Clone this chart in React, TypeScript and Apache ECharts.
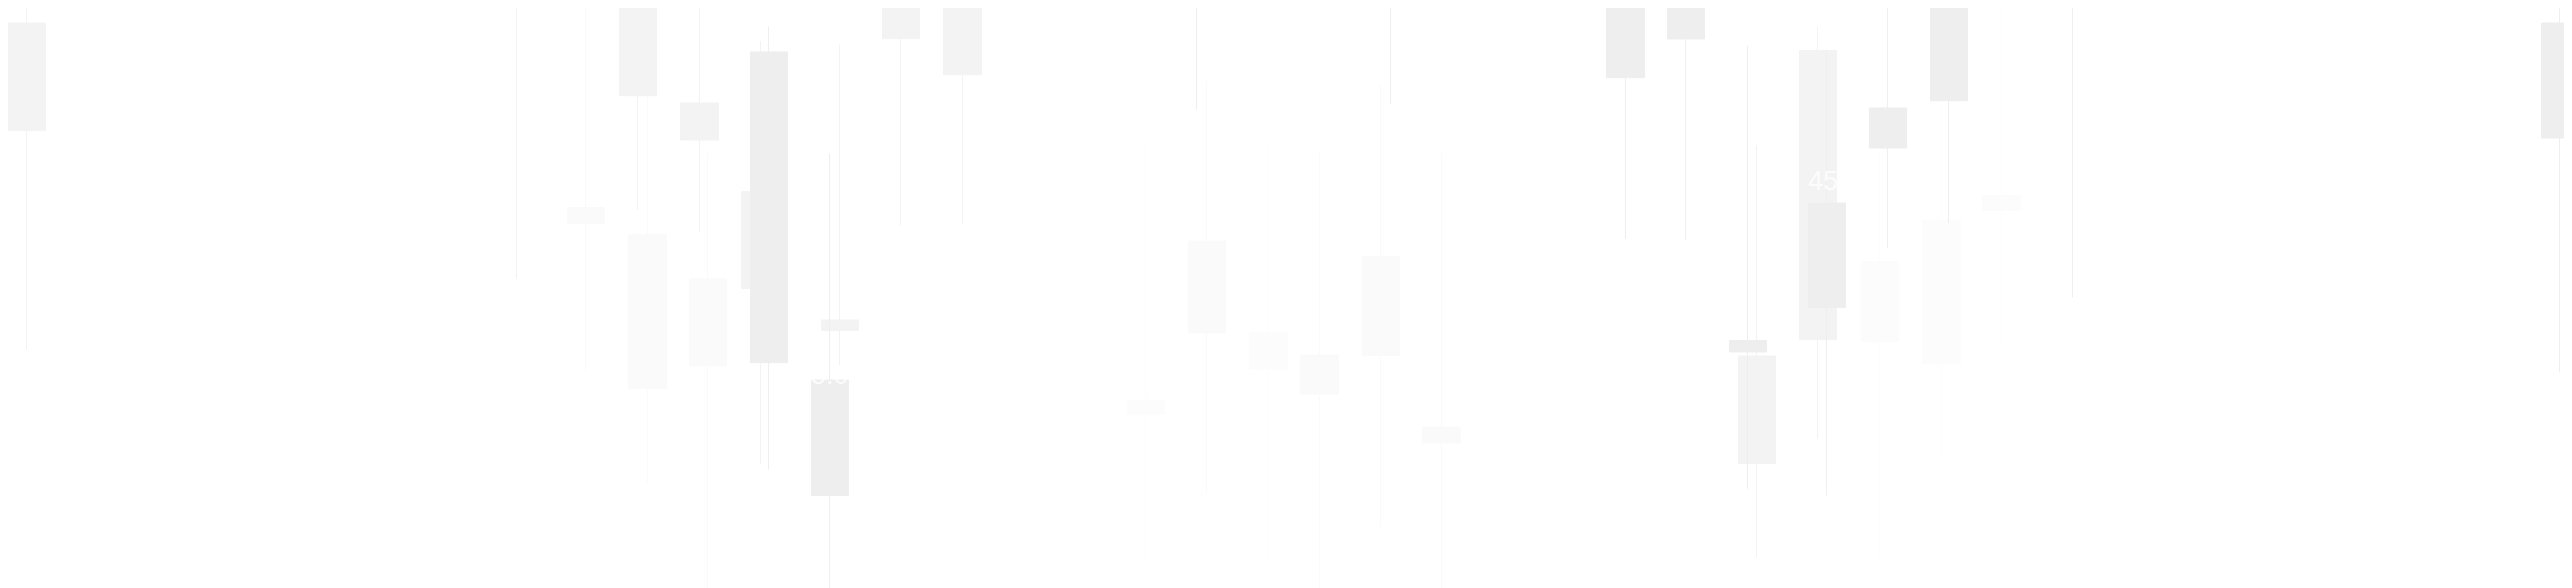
import React, { useEffect, useRef } from 'react';
import * as echarts from 'echarts';

// Each candle: [day, open, close, lowest, highest]
const palestCandles = [
  [18.58, 18.57, 20.0, 3.98, 46.02],
  [20.58, 23.16, 26.84, 3.98, 46.02],
  [30.57, 25.92, 34.13, 3.98, 45.1],
  [31.57, 23.72, 38.31, 14.54, 50.61],
  [32.55, 39.34, 40.87, 25.41, 61.0],
];
const lightCandles = [
  [9.44, 38.0, 39.64, 23.0, 61.0],
  [10.44, 21.16, 36.86, 11.53, 56.63],
  [11.43, 23.47, 32.35, -2, 45.15],
  [19.58, 26.84, 36.22, 10.45, 52.45],
  [21.42, 20.61, 24.59, -2, 45.15],
  [22.42, 24.53, 34.63, 7.08, 52.14],
  [23.41, 15.61, 17.24, -2, 45.15],
];
const midCandles = [
  [0.31, 47.49, 58.47, 25.14, 61.0],
  [8.3, 62.0, 65.0, 32.35, 67.0],
  [10.29, 51.05, 62.0, 39.42, 63.0],
  [11.29, 46.53, 50.31, 37.08, 61.0],
  [12.29, 31.38, 41.26, 13.47, 56.63],
  [13.59, 27.09, 28.16, 23.47, 56.26],
  [14.58, 56.87, 61.5, 37.81, 63.0],
  [15.59, 53.19, 62.0, 37.89, 63.0],
  [28.56, 13.51, 24.49, 3.98, 46.02],
  [29.56, 26.17, 55.67, 16.02, 58.09],
];
const darkCandles = [
  [12.43, 23.81, 55.52, 12.96, 58.09],
  [13.42, 10.26, 22.04, -2, 45.15],
  [19.42, 63.0, 66.0, 49.63, 68.0],
  [22.58, 62.0, 65.0, 50.16, 67.0],
  [26.41, 52.89, 62.0, 36.47, 64.0],
  [27.4, 56.84, 61.5, 36.28, 63.0],
  [28.41, 24.9, 26.06, 10.95, 56.13],
  [29.7, 29.43, 40.1, 10.26, 55.41],
  [30.7, 45.71, 49.8, 35.55, 61.0],
  [31.7, 50.55, 62.0, 38.06, 63.0],
  [33.71, 62.0, 64.0, 30.46, 66.0],
  [41.67, 46.73, 58.47, 22.81, 61.0],
];
const labelTexts = ['5.0', '45'];
const labelPoints = [
  [13.42, 22.55],
  [29.64, 42.35],
];

const layers = [
  { data: palestCandles, color: '#fcfcfc' },
  { data: lightCandles, color: '#fafafa' },
  { data: midCandles, color: '#f3f3f3' },
  { data: darkCandles, color: '#eeeeee' },
];

export default function App() {
  const ref = useRef<HTMLDivElement>(null);
  useEffect(() => {
    if (!ref.current) return;
    const chart = echarts.init(ref.current, undefined, { renderer: 'svg' });
    const series: any[] = layers.map((l) => ({
      type: 'candlestick',
      data: l.data,
      barWidth: 38,
      silent: true,
      itemStyle: {
        color: l.color,
        color0: l.color,
        borderColor: l.color,
        borderColor0: l.color,
        borderWidth: 1,
      },
    }));
    series.push({
      type: 'scatter',
      symbolSize: 1,
      silent: true,
      itemStyle: { color: 'rgba(0,0,0,0)' },
      label: {
        show: true,
        position: 'inside',
        formatter: '{b}',
        color: '#ffffff',
        fontSize: 27,
        fontFamily: 'Liberation Sans',
      },
      data: labelPoints.map((p, i) => ({ name: labelTexts[i], value: p })),
    });
    chart.setOption({
      animation: false,
      backgroundColor: '#ffffff',
      tooltip: { show: false },
      grid: { left: 0, right: 0, top: 0, bottom: 0 },
      xAxis: { type: 'value', min: 0, max: 42, show: false, splitLine: { show: false } },
      yAxis: { type: 'value', min: 0, max: 60, show: false, splitLine: { show: false } },
      series,
    });
    return () => chart.dispose();
  }, []);
  return (
    <div
      ref={ref}
      style={{ position: 'fixed', left: 0, top: 0, width: '2572px', height: '588px' }}
    />
  );
}
